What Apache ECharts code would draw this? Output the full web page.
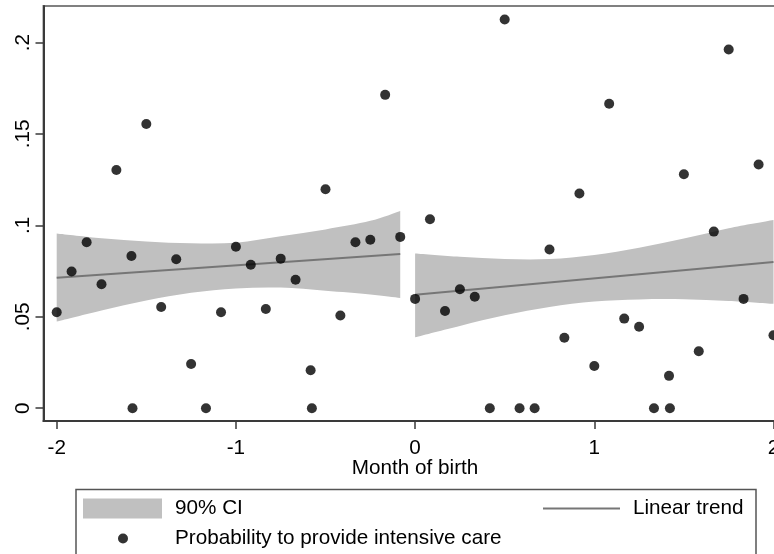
<!DOCTYPE html>
<html>
<head>
<meta charset="utf-8">
<script src="https://cdn.jsdelivr.net/npm/echarts@6/dist/echarts.min.js"></script>
<style>
  html, body { margin: 0; padding: 0; background: #fff; }
  #chart { width: 774px; height: 554px; }
</style>
</head>
<body>
<div id="chart"></div>
<script>
const FONT = '"Liberation Sans", Arial, Helvetica, sans-serif';
const FONT_SIZE = 20.7;

// Month of birth relative to the cutoff (in months) and the share given intensive care
const monthX = [
  -2.000, -1.917, -1.833, -1.750, -1.667, -1.583, -1.577, -1.500, -1.417, -1.333, -1.250, -1.167, -1.083,
  -1.000, -0.917, -0.833, -0.750, -0.667, -0.583, -0.576, -0.500, -0.417, -0.333, -0.250, -0.167, -0.083,
  0.000, 0.083, 0.167, 0.250, 0.333, 0.417, 0.500, 0.583, 0.667, 0.750, 0.833, 0.917, 1.000,
  1.083, 1.167, 1.250, 1.333, 1.417, 1.422, 1.500, 1.583, 1.667, 1.750, 1.833, 1.917, 2.000
];
const careProb = [
  0.0525, 0.0748, 0.0908, 0.0678, 0.1303, 0.0833, 0.0000, 0.1555, 0.0554, 0.0815, 0.0242, 0.0000, 0.0525,
  0.0883, 0.0785, 0.0543, 0.0818, 0.0703, 0.0208, 0.0000, 0.1198, 0.0507, 0.0908, 0.0921, 0.1714, 0.0937,
  0.0598, 0.1034, 0.0532, 0.0651, 0.0610, 0.0000, 0.2126, 0.0000, 0.0000, 0.0868, 0.0385, 0.1174, 0.0231,
  0.1665, 0.0490, 0.0446, 0.0000, 0.0177, 0.0000, 0.1280, 0.0312, 0.0966, 0.1962, 0.0598, 0.1333, 0.0399
];

// Linear fit on each side of the cutoff
const trendLeftX = [-2, -0.083];
const trendLeftY = [0.0714, 0.0843];
const trendRightX = [0, 2];
const trendRightY = [0.0620, 0.0800];

// 90% confidence band of each fit
const ciLeftX = [-2, -1.75, -1.5, -1.25, -1, -0.75, -0.5, -0.25, -0.083];
const ciLeftLow = [0.0474, 0.0535, 0.0589, 0.0631, 0.0655, 0.0660, 0.0642, 0.0622, 0.0603];
const ciLeftHigh = [0.0956, 0.0930, 0.0912, 0.0902, 0.0905, 0.0940, 0.0978, 0.1025, 0.1079];
const ciRightX = [0, 0.25, 0.5, 0.75, 1, 1.25, 1.5, 1.75, 2];
const ciRightLow = [0.0388, 0.0450, 0.0508, 0.0553, 0.0583, 0.0595, 0.0596, 0.0587, 0.0571];
const ciRightHigh = [0.0846, 0.0828, 0.0816, 0.0816, 0.0838, 0.0878, 0.0928, 0.0985, 0.1030];

// Axis ticks
const xTickValues = [-2, -1, 0, 1, 2];
const xTickLabels = ['-2', '-1', '0', '1', '2'];
const yTickValues = [0, 0.05, 0.1, 0.15, 0.2];
const yTickLabels = ['0', '.05', '.1', '.15', '.2'];

const zip = (xs, ys) => xs.map((x, i) => [x, ys[i]]);
const labelFor = (values, labels) => (v) => {
  const i = values.findIndex((t) => Math.abs(t - v) < 1e-9);
  return i < 0 ? '' : labels[i];
};

// Smooth closed band: upper edge left to right, lower edge back, through the axis scales
function bandPath(api, xs, lows, highs) {
  const up = xs.map((x, i) => api.coord([x, highs[i]]));
  const lo = xs.map((x, i) => api.coord([x, lows[i]])).reverse();
  const curve = (pts, start) => {
    let d = (start ? 'M' : 'L') + pts[0][0] + ',' + pts[0][1];
    for (let i = 0; i < pts.length - 1; i++) {
      const p0 = pts[Math.max(i - 1, 0)], p1 = pts[i], p2 = pts[i + 1], p3 = pts[Math.min(i + 2, pts.length - 1)];
      const c1 = [p1[0] + (p2[0] - p0[0]) / 6, p1[1] + (p2[1] - p0[1]) / 6];
      const c2 = [p2[0] - (p3[0] - p1[0]) / 6, p2[1] - (p3[1] - p1[1]) / 6];
      d += 'C' + c1[0] + ',' + c1[1] + ' ' + c2[0] + ',' + c2[1] + ' ' + p2[0] + ',' + p2[1];
    }
    return d;
  };
  return curve(up, true) + curve(lo, false) + 'Z';
}

function bandSeries(xs, lows, highs) {
  return {
    name: '90% CI',
    type: 'custom',
    z: 1,
    silent: true,
    itemStyle: { color: '#c0c0c0' },
    data: xs.map((x, i) => [x, lows[i], highs[i]]),
    encode: { x: 0, y: [1, 2] },
    renderItem: (params, api) => {
      if (params.dataIndex !== 0) return null;
      return {
        type: 'path',
        shape: { pathData: bandPath(api, xs, lows, highs) },
        style: { fill: '#c0c0c0', stroke: null }
      };
    }
  };
}

function trendSeries(xs, ys) {
  return {
    name: 'Linear trend',
    type: 'line',
    z: 2,
    silent: true,
    symbol: 'none',
    showSymbol: false,
    color: '#767676',
    lineStyle: { color: '#767676', width: 2 },
    data: zip(xs, ys)
  };
}

const legendText = (gap) => ({ fontSize: FONT_SIZE, color: '#000', fontFamily: FONT, padding: [0, 0, 0, gap] });

const chart = echarts.init(document.getElementById('chart'), null, { renderer: 'canvas' });
chart.setOption({
  animation: false,
  backgroundColor: '#fff',
  textStyle: { fontFamily: FONT },
  grid: {
    left: 43.5, top: 6, width: 743.2, height: 415,
    outerBoundsMode: 'none',
    containLabel: false,
    show: true, borderColor: '#808080', borderWidth: 2, backgroundColor: '#fff'
  },
  xAxis: {
    type: 'value',
    min: -2.0737, max: 2.0737,
    name: 'Month of birth',
    nameLocation: 'middle',
    nameGap: 37,
    nameMoveOverlap: false,
    nameTextStyle: { fontSize: FONT_SIZE, color: '#000', fontFamily: FONT },
    axisLine: { show: true, onZero: false, lineStyle: { color: '#3a3a3a', width: 2 } },
    axisTick: { show: true, length: 8, customValues: xTickValues, lineStyle: { color: '#3a3a3a', width: 1.5 } },
    axisLabel: {
      customValues: xTickValues,
      formatter: labelFor(xTickValues, xTickLabels),
      fontSize: FONT_SIZE, color: '#000', fontFamily: FONT, margin: 17
    },
    splitLine: { show: false }
  },
  yAxis: {
    type: 'value',
    min: -0.007, max: 0.22,
    axisLine: { show: true, onZero: false, lineStyle: { color: '#3a3a3a', width: 2 } },
    axisTick: { show: true, length: 8, customValues: yTickValues, lineStyle: { color: '#3a3a3a', width: 1.5 } },
    axisLabel: {
      customValues: yTickValues,
      formatter: labelFor(yTickValues, yTickLabels),
      rotate: 90,
      fontSize: FONT_SIZE, color: '#000', fontFamily: FONT, margin: 10
    },
    splitLine: { show: false }
  },
  legend: [
    {
      data: [{ name: '90% CI', icon: 'rect' }],
      left: 83, top: 498, padding: 0, itemWidth: 79, itemHeight: 20,
      selectedMode: false, textStyle: legendText(8)
    },
    {
      data: [{ name: 'Linear trend', icon: 'path://M0,0H77V2H0Z' }],
      left: 543, top: 498, padding: 0, itemWidth: 77, itemHeight: 20,
      selectedMode: false, textStyle: legendText(8)
    },
    {
      data: [{ name: 'Probability to provide intensive care', icon: 'circle' }],
      left: 118, top: 528, padding: 0, itemWidth: 10, itemHeight: 10,
      selectedMode: false, textStyle: legendText(42)
    }
  ],
  graphic: [
    {
      type: 'rect',
      z: 100,
      silent: true,
      shape: { x: 76, y: 489.5, width: 680, height: 100 },
      style: { fill: null, stroke: '#555', lineWidth: 1.5 }
    }
  ],
  series: [
    bandSeries(ciLeftX, ciLeftLow, ciLeftHigh),
    bandSeries(ciRightX, ciRightLow, ciRightHigh),
    trendSeries(trendLeftX, trendLeftY),
    trendSeries(trendRightX, trendRightY),
    {
      name: 'Probability to provide intensive care',
      type: 'scatter',
      z: 3,
      silent: true,
      symbol: 'circle',
      symbolSize: 10,
      color: '#000',
      itemStyle: { color: '#000' },
      data: zip(monthX, careProb)
    }
  ]
});
</script>
</body>
</html>
